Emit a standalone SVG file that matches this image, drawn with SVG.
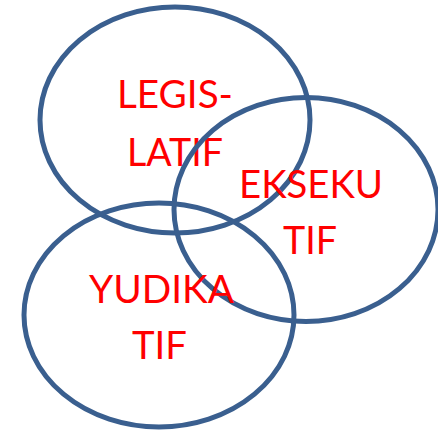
<svg xmlns="http://www.w3.org/2000/svg" width="438" height="432" viewBox="0 0 438 432">
  <style>
    .ring { fill: none; stroke: #3A5F8F; stroke-width: 5; }
    .lbl { fill: #FF0000; font-family: Lato, "Open Sans", "Liberation Sans", sans-serif; font-size: 39px; text-anchor: middle; }
  </style>
  <rect width="438" height="432" fill="#ffffff"/>
  <g id="legislatif">
    <ellipse class="ring" cx="175" cy="120" rx="135" ry="113"/>
    <text class="lbl" x="175" y="108" textLength="116" lengthAdjust="spacingAndGlyphs">LEGIS-</text>
    <text class="lbl" x="175" y="166" textLength="96" lengthAdjust="spacingAndGlyphs">LATIF</text>
  </g>
  <g id="eksekutif">
    <ellipse class="ring" cx="306" cy="209.5" rx="132" ry="112"/>
    <text class="lbl" x="311" y="198" textLength="144" lengthAdjust="spacingAndGlyphs">EKSEKU</text>
    <text class="lbl" x="310" y="254" textLength="54" lengthAdjust="spacingAndGlyphs">TIF</text>
  </g>
  <g id="yudikatif">
    <ellipse class="ring" cx="159" cy="315" rx="135" ry="112"/>
    <text class="lbl" x="161.5" y="303" textLength="145" lengthAdjust="spacingAndGlyphs">YUDIKA</text>
    <text class="lbl" x="159.5" y="359" textLength="55" lengthAdjust="spacingAndGlyphs">TIF</text>
  </g>
</svg>
